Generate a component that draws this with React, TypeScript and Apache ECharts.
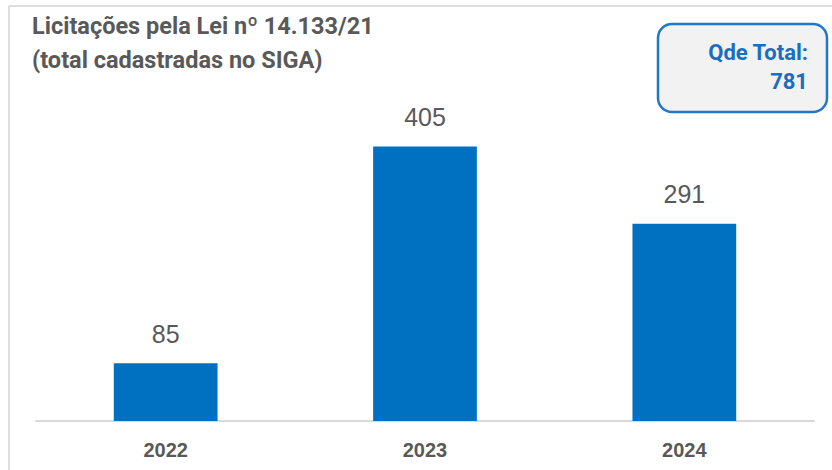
import React, { useEffect, useRef } from "react";
import * as echarts from "echarts";

const categories = ["2022", "2023", "2024"];
const values = [85, 405, 291];
const titleLines = ["Licitações pela Lei nº 14.133/21", "(total cadastradas no SIGA)"];
const totalLabel = "Qde Total:";
const totalValue = values.reduce((a, b) => a + b, 0);

const NARROW = "'Roboto', 'Liberation Sans', sans-serif";
const ARIAL = "'Liberation Sans', Arial, sans-serif";

export default function App() {
  const ref = useRef<HTMLDivElement>(null);
  useEffect(() => {
    if (!ref.current) return;
    const chart = echarts.init(ref.current, null, { renderer: "svg" });
    chart.setOption({
      animation: false,
      backgroundColor: "#ffffff",
      title: {
        text: titleLines.join("\n"),
        left: 27,
        top: 4,
        textStyle: {
          fontFamily: NARROW,
          fontWeight: "bold",
          fontSize: 23.5,
          lineHeight: 34,
          color: "#595959",
        },
      },
      grid: { left: 36, right: 18, top: 82, bottom: 49 },
      xAxis: {
        type: "category",
        data: categories,
        axisLine: { lineStyle: { color: "#d9d9d9", width: 2 } },
        axisTick: { show: false },
        axisLabel: {
          fontFamily: ARIAL,
          fontWeight: "bold",
          fontSize: 20,
          color: "#595959",
          margin: 19,
        },
      },
      yAxis: {
        type: "value",
        min: 0,
        max: 500,
        show: false,
        splitLine: { show: false },
      },
      series: [
        {
          type: "bar",
          data: values,
          barWidth: "40%",
          itemStyle: { color: "#0070c0" },
          label: {
            show: true,
            position: "top",
            distance: 17,
            fontFamily: ARIAL,
            fontSize: 25,
            color: "#595959",
          },
        },
      ],
      graphic: [
        {
          type: "line",
          shape: { x1: 9, y1: 6, x2: 832, y2: 6 },
          style: { stroke: "#dedede", lineWidth: 2 },
        },
        {
          type: "line",
          shape: { x1: 9, y1: 6, x2: 9, y2: 470 },
          style: { stroke: "#dedede", lineWidth: 2 },
        },
        {
          type: "rect",
          shape: { x: 658, y: 24, width: 169, height: 88, r: 14 },
          style: { fill: "#f2f2f2", stroke: "#1f78c8", lineWidth: 2.5 },
        },
        {
          type: "text",
          x: 808,
          y: 52,
          style: {
            text: totalLabel,
            align: "right",
            verticalAlign: "middle",
            fontFamily: NARROW,
            fontWeight: "bold",
            fontSize: 22,
            fill: "#1a6ec0",
          },
        },
        {
          type: "text",
          x: 808,
          y: 81,
          style: {
            text: String(totalValue),
            align: "right",
            verticalAlign: "middle",
            fontFamily: NARROW,
            fontWeight: "bold",
            fontSize: 22,
            fill: "#1a6ec0",
          },
        },
      ],
    });
    return () => chart.dispose();
  }, []);
  return (
    <div
      ref={ref}
      style={{ position: "fixed", left: 0, top: 0, width: 832, height: 470 }}
    />
  );
}
